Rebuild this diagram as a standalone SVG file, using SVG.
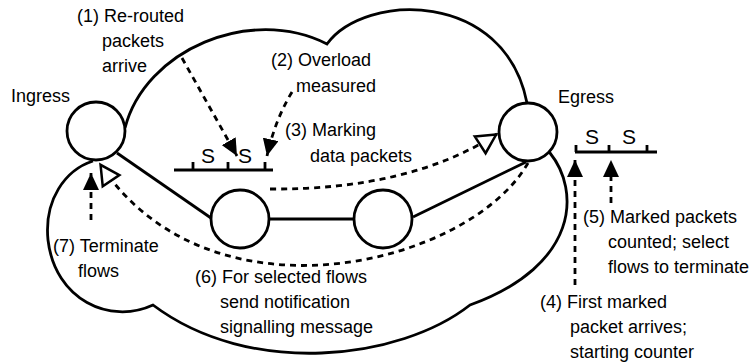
<svg xmlns="http://www.w3.org/2000/svg" width="751" height="362" viewBox="0 0 751 362">
<style>
.ln{fill:none;stroke:#000;stroke-width:2.8}
.dl{fill:none;stroke:#000;stroke-width:2.8;stroke-dasharray:6,5}
.nd{fill:#fff;stroke:#000;stroke-width:2.8}
text{font-family:"Liberation Sans",Arial,sans-serif;font-size:18px;fill:#000}
.s{font-size:21px}
</style>
<defs>
<marker id="fa" markerUnits="userSpaceOnUse" markerWidth="18" markerHeight="16" refX="17" refY="8" orient="auto" viewBox="0 0 18 16">
<path d="M0,0 L17,8 L0,16 Z" fill="#000"/>
</marker>
<marker id="oa" markerUnits="userSpaceOnUse" markerWidth="26" markerHeight="26" refX="22" refY="13" orient="auto" viewBox="0 0 26 26">
<path d="M2,3 L21,13 L2,23 Z" fill="#fff" stroke="#000" stroke-width="2.5"/>
</marker>
</defs>
<g id="cloud">
<path class="ln" d="M125,128 C145,50 250,5 327,44 C365,-8 505,-10 527,103 L550,153 C580,190 580,265 470,305 C400,360 250,378 153,305 C110,325 55,300 48,240 C44,200 65,170 93,161"/>
</g>
<g id="connectors">
<path class="ln" d="M117,153 L211,218"/>
<path class="ln" d="M269,219 L354,219"/>
<path class="ln" d="M413,217 L526,162"/>
<path class="dl" d="M182,58 L237,156" marker-end="url(#fa)"/>
<path class="dl" d="M292,92 Q275,120 267,156" marker-end="url(#fa)"/>
<path class="dl" d="M270,189 Q410,190 497,134" marker-end="url(#oa)"/>
<path class="dl" d="M528,163 C470,265 210,330 100,164" marker-end="url(#oa)"/>
<path class="dl" d="M91,220 L91,173" marker-end="url(#fa)"/>
<path class="dl" d="M575,285 L575,160" marker-end="url(#fa)"/>
<path class="dl" d="M611,203 L611,160" marker-end="url(#fa)"/>
</g>
<g id="ingress">
<circle class="nd" cx="96" cy="131" r="29"/>
<text x="11" y="102">Ingress</text>
</g>
<g id="egress">
<circle class="nd" cx="528" cy="132" r="29"/>
<text x="558" y="103">Egress</text>
</g>
<g id="node1"><circle class="nd" cx="240" cy="219" r="29"/></g>
<g id="node2"><circle class="nd" cx="383" cy="219" r="29"/></g>
<g id="queue1">
<path class="ln" d="M174,170 L273,170 M193,162 L193,170 M228,162 L228,170 M265,162 L265,170"/>
<text class="s" x="201" y="163">S</text>
<text class="s" x="238" y="163">S</text>
</g>
<g id="queue2">
<path class="ln" d="M575,152 L657,152 M576,145 L576,152 M609,145 L609,152 M647,145 L647,152"/>
<text class="s" x="585" y="144">S</text>
<text class="s" x="622" y="144">S</text>
</g>
<g id="labels">
<text x="77" y="22">(1) Re-routed</text>
<text x="102" y="47">packets</text>
<text x="102" y="72">arrive</text>
<text x="271" y="66">(2) Overload</text>
<text x="296" y="92">measured</text>
<text x="285" y="136">(3) Marking</text>
<text x="310" y="162">data packets</text>
<text x="53" y="252">(7) Terminate</text>
<text x="78" y="277">flows</text>
<text x="195" y="283">(6) For selected flows</text>
<text x="220" y="308">send notification</text>
<text x="220" y="333">signalling message</text>
<text x="583" y="223">(5) Marked packets</text>
<text x="608" y="248">counted; select</text>
<text x="608" y="273">flows to terminate</text>
<text x="540" y="308">(4) First marked</text>
<text x="570" y="333">packet arrives;</text>
<text x="570" y="358">starting counter</text>
</g>
</svg>
